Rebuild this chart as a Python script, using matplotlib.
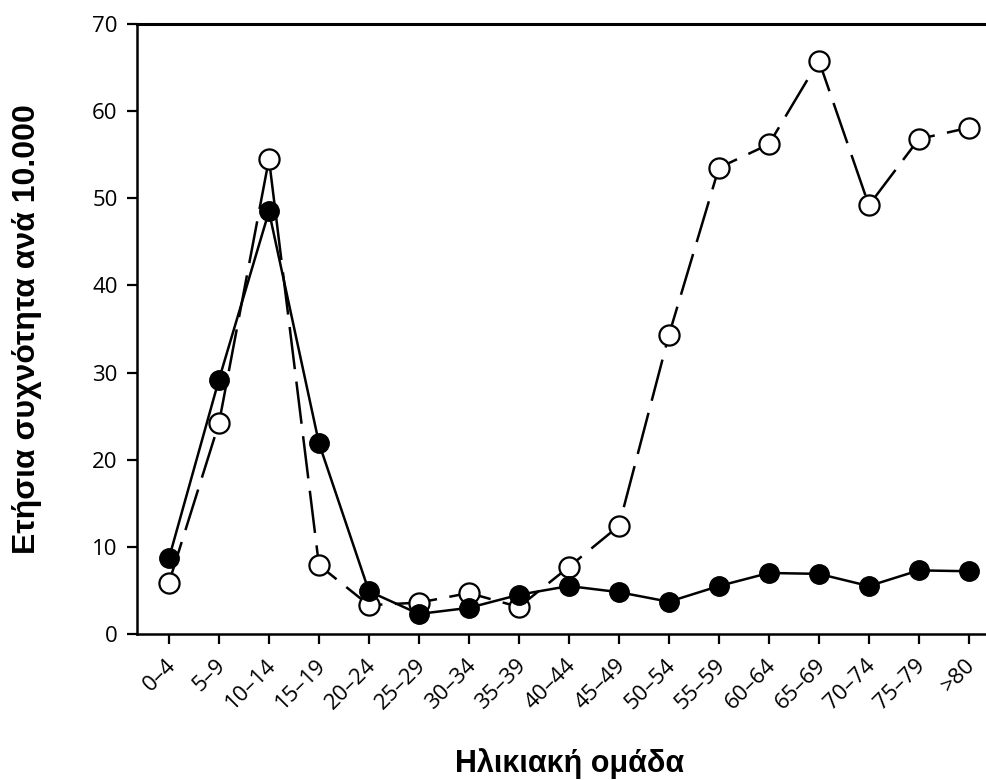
import numpy as np
import matplotlib
matplotlib.use("Agg")
import matplotlib.pyplot as plt
import matplotlib.transforms as mtransforms

# ---- DATA ----
age_groups = ["0–4", "5–9", "10–14", "15–19", "20–24", "25–29", "30–34", "35–39",
              "40–44", "45–49", "50–54", "55–59", "60–64", "65–69", "70–74", "75–79", ">80"]
filled_vals = [8.7, 29.2, 48.5, 21.9, 4.9, 2.3, 3.0, 4.5,
               5.5, 4.8, 3.7, 5.5, 7.0, 6.9, 5.5, 7.3, 7.2]
open_vals = [5.9, 24.2, 54.5, 7.9, 3.3, 3.6, 4.7, 3.1,
             7.7, 12.4, 34.3, 53.5, 56.2, 65.8, 49.2, 56.8, 58.1]
y_ticks = [0, 10, 20, 30, 40, 50, 60, 70]

x = np.arange(len(age_groups))

fig = plt.figure(figsize=(9.87, 7.80), dpi=100)
ax = fig.add_axes([0.1388, 0.1872, 0.859, 0.782])

# open circles, dashed line
ax.plot(x, open_vals, color="black", linewidth=1.8, dashes=(17, 5),
        marker="o", markersize=14.5, markerfacecolor="white",
        markeredgecolor="black", markeredgewidth=1.6, zorder=3)
# filled circles, solid line
ax.plot(x, filled_vals, color="black", linewidth=1.8,
        marker="o", markersize=14, markerfacecolor="black",
        markeredgecolor="black", markeredgewidth=1, zorder=4)

ax.set_xlim(-0.64, 16.32)
ax.set_ylim(0, 70)
ax.set_xticks(x)
ax.set_yticks(y_ticks)
ax.tick_params(axis="both", direction="out", length=7, width=1.6,
               labelsize=16)
ax.tick_params(axis="y", pad=7)
ax.tick_params(axis="x", pad=8)
ax.set_xticklabels(age_groups, rotation=45, ha="right", va="top",
                   family="Open Sans", fontsize=16)
ax.set_yticklabels([str(v) for v in y_ticks], family="Open Sans", fontsize=16)

# shift rotated labels a little to the right, as in the scan
offset = mtransforms.ScaledTranslation(0.11, 0, fig.dpi_scale_trans)
for lab in ax.get_xticklabels():
    lab.set_transform(lab.get_transform() + offset)

ax.spines["right"].set_visible(False)
for s in ["left", "bottom"]:
    ax.spines[s].set_linewidth(1.8)
ax.spines["top"].set_linewidth(2.2)

ax.set_xlabel("Ηλικιακή ομάδα", fontsize=22, fontweight="bold",
              family="Liberation Sans", va="baseline")
ax.set_ylabel("Ετήσια συχνότητα ανά 10.000", fontsize=23, fontweight="bold",
              family="Liberation Sans")
ax.xaxis.set_label_coords(0.51, -0.227)
ax.yaxis.set_label_coords(-0.112, 0.5)

plt.savefig("out.png", dpi=100)
plt.close()
